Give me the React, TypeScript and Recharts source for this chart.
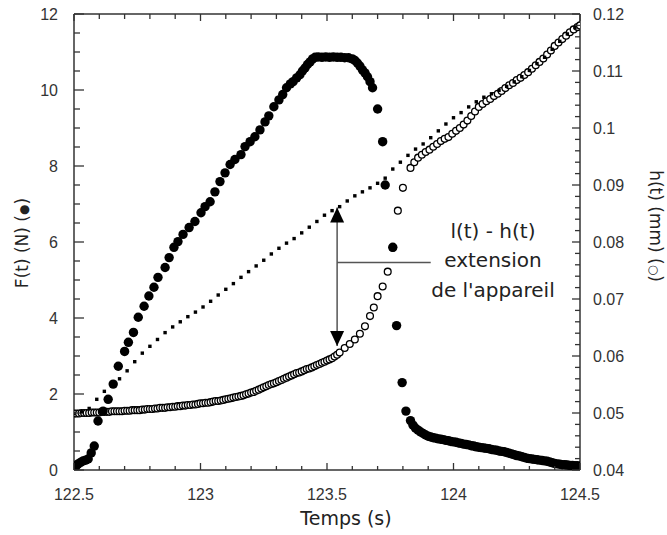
import React from 'react';
import { ComposedChart, Scatter, XAxis, YAxis, ReferenceLine, ReferenceDot } from 'recharts';

// ---------- data ----------
const fTimes = [
  122.508, 122.516, 122.526, 122.536, 122.546, 122.556, 122.568, 122.58, 122.595, 122.615,
  122.635, 122.655, 122.675, 122.70, 122.715, 122.735, 122.754, 122.777, 122.796, 122.816,
  122.832, 122.86, 122.876, 122.895, 122.911, 122.931, 122.955, 122.978, 123.002, 123.018,
  123.038, 123.057, 123.077, 123.097, 123.117, 123.136, 123.16, 123.176, 123.196, 123.215,
  123.235, 123.255, 123.27, 123.29, 123.31, 123.325, 123.34, 123.355, 123.366, 123.38,
  123.393, 123.403, 123.413, 123.423, 123.433, 123.443, 123.453, 123.465, 123.48, 123.495,
  123.51, 123.525, 123.54, 123.555, 123.57, 123.585, 123.60, 123.61, 123.62, 123.63,
  123.64, 123.65, 123.66, 123.67, 123.68, 123.70, 123.72, 123.73, 123.76, 123.775,
  123.797, 123.812, 123.83, 123.84,
  123.85, 123.86, 123.87, 123.88, 123.89, 123.90, 123.91, 123.92, 123.93, 123.94,
  123.95, 123.96, 123.97, 123.98, 123.99, 124.00, 124.01, 124.02, 124.03, 124.04,
  124.05, 124.06, 124.07, 124.08, 124.09, 124.10, 124.11, 124.12, 124.13, 124.14,
  124.15, 124.16, 124.17, 124.18, 124.19, 124.20, 124.21, 124.22, 124.23, 124.24,
  124.25, 124.26, 124.27, 124.28, 124.29, 124.30, 124.31, 124.32, 124.33, 124.34,
  124.35, 124.36, 124.37, 124.38, 124.39, 124.40, 124.41, 124.42, 124.43, 124.44,
  124.45, 124.46, 124.47, 124.48, 124.49, 124.50,
];
const fValues = [
  0.10, 0.16, 0.20, 0.24, 0.26, 0.29, 0.45, 0.63, 1.29, 1.55,
  1.86, 2.26, 2.73, 3.12, 3.36, 3.62, 4.02, 4.31, 4.58, 4.81,
  5.07, 5.33, 5.59, 5.86, 6.01, 6.20, 6.38, 6.54, 6.77, 6.93,
  7.06, 7.32, 7.59, 7.82, 8.04, 8.17, 8.30, 8.51, 8.64, 8.77,
  8.95, 9.16, 9.32, 9.56, 9.74, 9.88, 10.06, 10.16, 10.22, 10.32,
  10.40, 10.50, 10.58, 10.67, 10.74, 10.82, 10.86, 10.87, 10.86, 10.87,
  10.86, 10.87, 10.86, 10.86, 10.85, 10.85, 10.82, 10.78, 10.71, 10.63,
  10.53, 10.45, 10.35, 10.22, 10.06, 9.50, 8.64, 7.50, 5.86, 3.80,
  2.30, 1.55, 1.30, 1.18,
  1.10, 1.05, 1.00, 0.96, 0.92, 0.89, 0.87, 0.85, 0.84, 0.82,
  0.81, 0.80, 0.78, 0.77, 0.75, 0.74, 0.73, 0.71, 0.70, 0.68,
  0.67, 0.66, 0.64, 0.63, 0.61, 0.60, 0.59, 0.58, 0.57, 0.56,
  0.54, 0.53, 0.52, 0.50, 0.49, 0.48, 0.46, 0.44, 0.42, 0.40,
  0.38, 0.37, 0.35, 0.33, 0.31, 0.30, 0.29, 0.28, 0.27, 0.26,
  0.25, 0.24, 0.23, 0.21, 0.19, 0.17, 0.16, 0.15, 0.14, 0.14,
  0.13, 0.12, 0.12, 0.11, 0.11, 0.10,
];

const hTimes = [
  122.50, 122.51, 122.52, 122.53, 122.54, 122.55, 122.56, 122.57, 122.58, 122.59,
  122.60, 122.61, 122.62, 122.63, 122.64, 122.65, 122.66, 122.67, 122.68, 122.69,
  122.70, 122.71, 122.72, 122.73, 122.74, 122.75, 122.76, 122.77, 122.78, 122.79,
  122.80, 122.81, 122.82, 122.83, 122.84, 122.85, 122.86, 122.87, 122.88, 122.89,
  122.90, 122.91, 122.92, 122.93, 122.94, 122.95, 122.96, 122.97, 122.98, 122.99,
  123.00, 123.01, 123.02, 123.03, 123.04, 123.05, 123.06, 123.07, 123.08, 123.09,
  123.10, 123.11, 123.12, 123.13, 123.14, 123.15, 123.16, 123.17, 123.18, 123.19,
  123.20, 123.21, 123.22, 123.23, 123.24, 123.25, 123.26, 123.27, 123.28, 123.29,
  123.30, 123.31, 123.32, 123.33, 123.34, 123.35, 123.36, 123.37, 123.38, 123.39,
  123.40, 123.41, 123.42, 123.43, 123.44, 123.45, 123.46, 123.47, 123.48, 123.49,
  123.50, 123.51, 123.52, 123.53, 123.54, 123.55, 123.57, 123.59, 123.61, 123.63,
  123.65, 123.67, 123.685, 123.70, 123.72, 123.74, 123.76, 123.78, 123.80, 123.83,
  123.845, 123.86, 123.875, 123.89, 123.905, 123.92, 123.935, 123.95, 123.965, 123.98,
  123.995, 124.01, 124.025, 124.04, 124.055, 124.07, 124.085, 124.10, 124.115, 124.13,
  124.145, 124.16, 124.175, 124.19, 124.205, 124.22, 124.235, 124.25, 124.265, 124.28,
  124.295, 124.31, 124.325, 124.34, 124.355, 124.37, 124.385, 124.40, 124.415, 124.43,
  124.445, 124.46, 124.475, 124.49, 124.50,
];
const hValues = [
  0.0499, 0.0499, 0.0499, 0.0500, 0.0500, 0.0500, 0.0500, 0.0501, 0.0501, 0.0501,
  0.0501, 0.0502, 0.0502, 0.0502, 0.0502, 0.0503, 0.0503, 0.0503, 0.0503, 0.0503,
  0.0504, 0.0504, 0.0504, 0.0505, 0.0505, 0.0505, 0.0505, 0.0506, 0.0506, 0.0507,
  0.0507, 0.0507, 0.0508, 0.0508, 0.0509, 0.0509, 0.0509, 0.0510, 0.0510, 0.0511,
  0.0511, 0.0512, 0.0512, 0.0513, 0.0513, 0.0514, 0.0514, 0.0515, 0.0515, 0.0516,
  0.0517, 0.0517, 0.0518, 0.0518, 0.0519, 0.0520, 0.0521, 0.0521, 0.0522, 0.0523,
  0.0524, 0.0525, 0.0526, 0.0527, 0.0528, 0.0529, 0.0530, 0.0531, 0.0533, 0.0534,
  0.0536, 0.0537, 0.0539, 0.0541, 0.0543, 0.0545, 0.0547, 0.0549, 0.0551, 0.0552,
  0.0554, 0.0556, 0.0558, 0.0560, 0.0562, 0.0564, 0.0566, 0.0568, 0.0570, 0.0571,
  0.0573, 0.0575, 0.0577, 0.0578, 0.0580, 0.0582, 0.0584, 0.0586, 0.0588, 0.0590,
  0.0592, 0.0594, 0.0596, 0.0599, 0.0602, 0.0606, 0.0614, 0.0621, 0.0629, 0.0639,
  0.0652, 0.0670, 0.0685, 0.0705, 0.0722, 0.0748, 0.0790, 0.0855, 0.0895, 0.0930,
  0.0940, 0.0948, 0.0953, 0.0958, 0.0962, 0.0967, 0.0972, 0.0977, 0.0981, 0.0984,
  0.0990, 0.0995, 0.1000, 0.1006, 0.1013, 0.1021, 0.1029, 0.1037, 0.1042, 0.1047,
  0.1051, 0.1056, 0.1060, 0.1065, 0.1070, 0.1075, 0.1079, 0.1084, 0.1088, 0.1093,
  0.1098, 0.1104, 0.1110, 0.1116, 0.1122, 0.1129, 0.1136, 0.1144, 0.1150, 0.1156,
  0.1162, 0.1168, 0.1173, 0.1177, 0.1180,
];

const lTimes = [
  122.50, 122.53, 122.56, 122.59, 122.62, 122.65, 122.68, 122.71, 122.74, 122.77,
  122.80, 122.83, 122.86, 122.89, 122.92, 122.95, 122.98, 123.01, 123.04, 123.07,
  123.10, 123.13, 123.16, 123.19, 123.22, 123.25, 123.28, 123.31, 123.34, 123.37,
  123.40, 123.43, 123.46, 123.49, 123.52, 123.55, 123.58, 123.61, 123.64, 123.67,
  123.70, 123.73, 123.76, 123.79, 123.82, 123.85, 123.88, 123.91, 123.94, 123.97,
  124.00, 124.03, 124.06, 124.09, 124.12, 124.15, 124.18, 124.21, 124.24, 124.27,
  124.30, 124.33, 124.36, 124.39, 124.42, 124.45, 124.48,
];
const lValues = [
  0.0499, 0.0502, 0.0508, 0.0524, 0.0538, 0.0549, 0.0560, 0.0574, 0.0590, 0.0605,
  0.0617, 0.0629, 0.0641, 0.0651, 0.0660, 0.0669, 0.0677, 0.0686, 0.0696, 0.0707,
  0.0717, 0.0727, 0.0738, 0.0748, 0.0758, 0.0768, 0.0779, 0.0789, 0.0798, 0.0806,
  0.0816, 0.0826, 0.0836, 0.0847, 0.0855, 0.0862, 0.0872, 0.0881, 0.0888, 0.0895,
  0.0903, 0.0912, 0.0928, 0.0940, 0.0952, 0.0963, 0.0972, 0.0983, 0.0995, 0.1007,
  0.1018, 0.1027, 0.1037, 0.1046, 0.1054, 0.1060, 0.1066, 0.1073, 0.1081, 0.1090,
  0.1101, 0.1113, 0.1124, 0.1138, 0.1152, 0.1165, 0.1176,
];

const xTicks = [
  122.5, 122.6, 122.7, 122.8, 122.9, 123, 123.1, 123.2, 123.3, 123.4,
  123.5, 123.6, 123.7, 123.8, 123.9, 124, 124.1, 124.2, 124.3, 124.4, 124.5,
];
const xLabelTicks = [122.5, 123, 123.5, 124, 124.5];
const yLeftTicks = [
  0, 0.5, 1, 1.5, 2, 2.5, 3, 3.5, 4, 4.5, 5, 5.5, 6, 6.5, 7, 7.5, 8, 8.5, 9, 9.5,
  10, 10.5, 11, 11.5, 12,
];
const yLeftLabelTicks = [0, 2, 4, 6, 8, 10, 12];
const yRightTicks = [
  0.04, 0.042, 0.044, 0.046, 0.048, 0.05, 0.052, 0.054, 0.056, 0.058,
  0.06, 0.062, 0.064, 0.066, 0.068, 0.07, 0.072, 0.074, 0.076, 0.078,
  0.08, 0.082, 0.084, 0.086, 0.088, 0.09, 0.092, 0.094, 0.096, 0.098,
  0.1, 0.102, 0.104, 0.106, 0.108, 0.11, 0.112, 0.114, 0.116, 0.118, 0.12,
];
const yRightLabelTicks = [0.04, 0.05, 0.06, 0.07, 0.08, 0.09, 0.1, 0.11, 0.12];

const annotationLines = ['l(t) - h(t)', 'extension', "de l'appareil"];

// ---------- layout / style ----------
const W = 667;
const H = 535;
const PLOT = { left: 74, right: 580, top: 14, bottom: 470 };
const AXIS = '#333';
const TICK_FONT = '"Liberation Sans", Arial, sans-serif';
const TITLE_FONT = '"DejaVu Sans", Verdana, sans-serif';

const near = (a: number, b: number) => Math.abs(a - b) < 1e-9;
const isIn = (v: number, arr: number[]) => arr.some((a) => near(a, v));

const fData = fTimes.map((t, i) => ({ t, v: fValues[i] }));
const hData = hTimes.map((t, i) => ({ t, v: hValues[i] }));
const lData = lTimes.map((t, i) => ({ t, v: lValues[i] }));

const BottomTick = (p: any) => {
  const v = p.payload.value;
  const major = isIn(v, xLabelTicks);
  return (
    <g>
      <line x1={p.x} x2={p.x} y1={PLOT.bottom} y2={PLOT.bottom - (major ? 7 : 4)} stroke={AXIS} strokeWidth={1.3} />
      {major && (
        <text x={p.x} y={PLOT.bottom + 30} textAnchor="middle" fontFamily={TICK_FONT} fontSize={16} fill="#333">
          {String(v)}
        </text>
      )}
    </g>
  );
};

const TopTick = (p: any) => {
  const v = p.payload.value;
  const major = isIn(v, xLabelTicks);
  return <line x1={p.x} x2={p.x} y1={PLOT.top} y2={PLOT.top + (major ? 7 : 5)} stroke={AXIS} strokeWidth={1.3} />;
};

const LeftTick = (p: any) => {
  const v = p.payload.value;
  const major = isIn(v, yLeftLabelTicks);
  return (
    <g>
      <line x1={PLOT.left} x2={PLOT.left + (major ? 10 : 6)} y1={p.y} y2={p.y} stroke={AXIS} strokeWidth={1.3} />
      {major && (
        <text x={PLOT.left - 16} y={p.y} dy="0.36em" textAnchor="end" fontFamily={TICK_FONT} fontSize={16} fill="#333">
          {String(v)}
        </text>
      )}
    </g>
  );
};

const RightTick = (p: any) => {
  const v = p.payload.value;
  const major = isIn(v, yRightLabelTicks);
  return (
    <g>
      <line x1={PLOT.right} x2={PLOT.right - (major ? 8 : 5)} y1={p.y} y2={p.y} stroke={AXIS} strokeWidth={1.3} />
      {major && (
        <text x={PLOT.right + 13} y={p.y} dy="0.36em" textAnchor="start" fontFamily={TICK_FONT} fontSize={16} fill="#333">
          {String(v)}
        </text>
      )}
    </g>
  );
};

const FilledDot = (p: any) => <circle cx={p.cx} cy={p.cy} r={4.7} fill="#000" />;
const OpenDot = (p: any) => (
  <circle cx={p.cx} cy={p.cy} r={3.4} fill="#fff" stroke="#000" strokeWidth={1.3} />
);
const SquareDot = (p: any) => <rect x={p.cx - 1.7} y={p.cy - 1.7} width={3.4} height={3.4} fill="#000" />;

const UpHead = (p: any) => (
  <polygon points={`${p.cx},${p.cy} ${p.cx - 7},${p.cy + 15} ${p.cx + 7},${p.cy + 15}`} fill="#000" />
);
const DownHead = (p: any) => (
  <polygon points={`${p.cx},${p.cy} ${p.cx - 7},${p.cy - 15} ${p.cx + 7},${p.cy - 15}`} fill="#000" />
);
const AnnotationText = (p: any) => (
  <g>
    {annotationLines.map((s, i) => (
      <text
        key={s}
        x={p.cx}
        y={p.cy + (i - 1) * 29.5}
        textAnchor="middle"
        fontFamily={TITLE_FONT}
        fontSize={20}
        fill="#222"
      >
        {s}
      </text>
    ))}
  </g>
);

export default function App() {
  return (
    <div style={{ position: 'absolute', left: 0, top: 0, width: W, height: H, background: '#fff' }}>
      <ComposedChart
        width={W}
        height={H}
        margin={{ top: 10, right: 27, bottom: 25, left: 14 }}
        style={{ background: '#fff' }}
      >
        <XAxis
          xAxisId="bottom"
          dataKey="t"
          type="number"
          domain={[122.5, 124.5]}
          ticks={xTicks}
          interval={0}
          allowDataOverflow
          height={40}
          tickLine={false}
          axisLine={{ stroke: AXIS, strokeWidth: 1.5 }}
          tick={<BottomTick />}
        />
        <XAxis
          xAxisId="top"
          orientation="top"
          dataKey="t"
          type="number"
          domain={[122.5, 124.5]}
          ticks={xTicks}
          interval={0}
          allowDataOverflow
          height={4}
          tickLine={false}
          axisLine={{ stroke: AXIS, strokeWidth: 1.5 }}
          tick={<TopTick />}
        />
        <YAxis
          yAxisId="left"
          dataKey="v"
          type="number"
          domain={[0, 12]}
          ticks={yLeftTicks}
          interval={0}
          allowDataOverflow
          width={60}
          tickLine={false}
          axisLine={{ stroke: AXIS, strokeWidth: 1.5 }}
          tick={<LeftTick />}
        />
        <YAxis
          yAxisId="right"
          orientation="right"
          dataKey="v"
          type="number"
          domain={[0.04, 0.12]}
          ticks={yRightTicks}
          interval={0}
          allowDataOverflow
          width={60}
          tickLine={false}
          axisLine={{ stroke: AXIS, strokeWidth: 1.5 }}
          tick={<RightTick />}
        />
        <Scatter data={hData} xAxisId="bottom" yAxisId="right" dataKey="v" shape={OpenDot} isAnimationActive={false} />
        <Scatter data={lData} xAxisId="bottom" yAxisId="right" dataKey="v" shape={SquareDot} isAnimationActive={false} />
        <Scatter data={fData} xAxisId="bottom" yAxisId="left" dataKey="v" shape={FilledDot} isAnimationActive={false} />

        <ReferenceLine
          xAxisId="bottom"
          yAxisId="left"
          segment={[{ x: 123.54, y: 6.91 }, { x: 123.54, y: 3.26 }]}
          stroke="#555"
          strokeWidth={1.5}
          ifOverflow="visible"
        />
        <ReferenceLine
          xAxisId="bottom"
          yAxisId="left"
          segment={[{ x: 123.54, y: 5.46 }, { x: 123.91, y: 5.46 }]}
          stroke="#555"
          strokeWidth={1.5}
          ifOverflow="visible"
        />
        <ReferenceDot xAxisId="bottom" yAxisId="left" x={123.54} y={6.91} r={1} shape={UpHead} ifOverflow="visible" />
        <ReferenceDot xAxisId="bottom" yAxisId="left" x={123.54} y={3.26} r={1} shape={DownHead} ifOverflow="visible" />
        <ReferenceDot xAxisId="bottom" yAxisId="left" x={124.156} y={5.33} r={1} shape={AnnotationText} ifOverflow="visible" />
      </ComposedChart>
      <svg width={W} height={H} style={{ position: 'absolute', left: 0, top: 0, pointerEvents: 'none' }}>
        <text x={346} y={525} textAnchor="middle" fontFamily={TITLE_FONT} fontSize={19} fill="#222">
          Temps (s)
        </text>
        <text
          transform="translate(22,243) rotate(-90)"
          textAnchor="middle"
          dy="0.35em"
          fontFamily={TITLE_FONT}
          fontSize={17}
          fill="#222"
        >
          F(t) (N) (<tspan fontSize={12}>●</tspan>)
        </text>
        <text
          transform="translate(656,226) rotate(90)"
          textAnchor="middle"
          dy="0.35em"
          fontFamily={TITLE_FONT}
          fontSize={17}
          fill="#222"
        >
          h(t) (mm) (<tspan fontSize={12}>○</tspan>)
        </text>
      </svg>
    </div>
  );
}
